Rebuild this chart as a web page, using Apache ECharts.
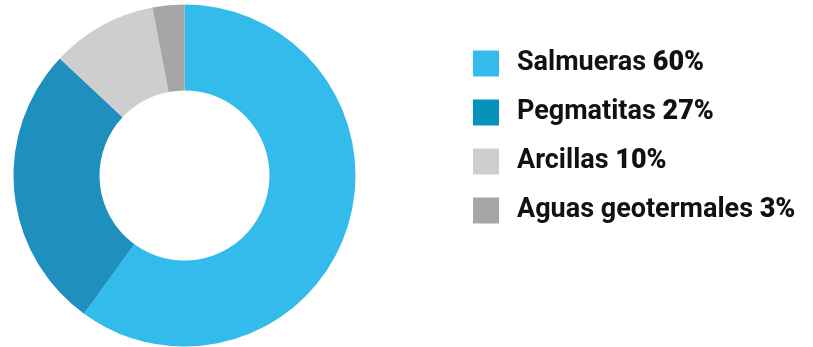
<!DOCTYPE html>
<html>
<head>
<meta charset="utf-8">
<script src="https://cdn.jsdelivr.net/npm/echarts@6/dist/echarts.min.js"></script>
<style>
  html, body { margin: 0; padding: 0; background: #fff; }
  #chart { width: 813px; height: 347px; }
</style>
</head>
<body>
<div id="chart"></div>
<script>
// Fuentes de litio: participación por tipo de yacimiento
const categories = ['Salmueras', 'Pegmatitas', 'Arcillas', 'Aguas geotermales'];
const shares = [60, 27, 10, 3];
const sliceColors = ['#33bbec', '#1f8fbd', '#cecece', '#a6a6a6'];
const legendColors = ['#33bbec', '#0592bd', '#cecece', '#a6a6a6'];

const chart = echarts.init(document.getElementById('chart'), null, { renderer: 'canvas' });

const pieData = categories.map((name, i) => ({
  name,
  value: shares[i],
  itemStyle: { color: sliceColors[i] }
}));

const legendData = categories.map((name, i) => ({
  name,
  itemStyle: { color: legendColors[i] }
}));

chart.setOption({
  animation: false,
  legend: {
    orient: 'vertical',
    left: 473,
    top: 50,
    padding: 0,
    icon: 'rect',
    itemWidth: 26,
    itemHeight: 26,
    itemGap: 22,
    data: legendData,
    selectedMode: false,
    formatter: (name) => {
      const i = categories.indexOf(name);
      return '{n|' + name + ' }{p|' + shares[i] + '%}';
    },
    textStyle: {
      padding: [0, 0, 0, 13],
      rich: {
        n: { fontFamily: 'Roboto', fontSize: 27, fontWeight: 'bold', color: '#111', lineHeight: 26 },
        p: { fontFamily: 'Roboto', fontSize: 27, fontWeight: 900, color: '#111', lineHeight: 26 }
      }
    }
  },
  series: [{
    type: 'pie',
    center: [184.5, 175.5],
    radius: [85, 171],
    startAngle: 90,
    clockwise: true,
    label: { show: false },
    labelLine: { show: false },
    emphasis: { disabled: true },
    data: pieData
  }]
});
</script>
</body>
</html>
